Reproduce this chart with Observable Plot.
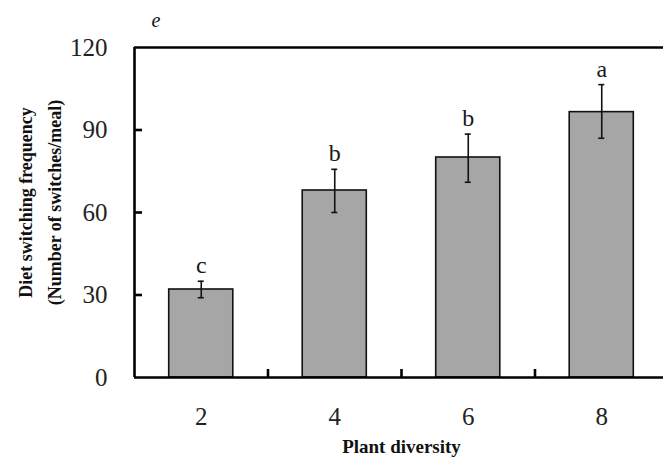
<!DOCTYPE html>
<html>
<head>
<meta charset="utf-8">
<script src="https://cdn.jsdelivr.net/npm/d3@7"></script>
<script src="https://cdn.jsdelivr.net/npm/@observablehq/plot@0.6"></script>
<style>
  html, body { margin: 0; padding: 0; background: #fff; }
  #chart svg { display: block; }
</style>
</head>
<body>
<div id="chart"></div>
<script>
const diversity = [2, 4, 6, 8];
const meanValues = [32, 68, 80, 96.5];
const errLow = [29, 60, 71, 87];
const errHigh = [35, 75.7, 88.5, 106.5];
const letters = ["c", "b", "b", "a"];
const yTicks = [0, 30, 60, 90, 120];
const xTickLabels = ["2", "4", "6", "8"];
const yLabel = "Diet switching frequency\n(Number of switches/meal)";
const xLabel = "Plant diversity";
const panelLetter = "e";

const data = diversity.map((d, i) => ({
  x: d, mean: meanValues[i], lo: errLow[i], hi: errHigh[i], letter: letters[i]
}));

const halfBar = 0.48;
const halfCap = 0.045;
const serif = "Liberation Serif, Times New Roman, serif";

const chart = Plot.plot({
  width: 663,
  height: 463,
  marginLeft: 134,
  marginTop: 47,
  marginBottom: 86,
  marginRight: 0,
  style: { fontFamily: serif, background: "white", color: "black" },
  x: { domain: [1, 9], range: [134, 668] },
  y: { domain: [0, 120] },
  marks: [
    Plot.rectY(data, {
      x1: d => d.x - halfBar, x2: d => d.x + halfBar, y1: 0, y2: "mean",
      fill: "#a6a6a6", stroke: "#111", strokeWidth: 1.6
    }),
    Plot.ruleX(data, { x: "x", y1: "lo", y2: "hi", stroke: "#111", strokeWidth: 1.6 }),
    Plot.ruleY(data, { y: "lo", x1: d => d.x - halfCap, x2: d => d.x + halfCap, stroke: "#111", strokeWidth: 1.6 }),
    Plot.ruleY(data, { y: "hi", x1: d => d.x - halfCap, x2: d => d.x + halfCap, stroke: "#111", strokeWidth: 1.6 }),
    Plot.text(data, {
      x: "x", y: "hi", text: "letter", dy: -8, lineAnchor: "bottom",
      fontSize: 24, fontFamily: serif, fill: "#1a1a1a"
    }),
    Plot.ruleY([0, 120], { stroke: "#000", strokeWidth: 2.6 }),
    Plot.ruleX([1], { stroke: "#000", strokeWidth: 2.6 }),
    Plot.axisY({
      ticks: yTicks, tickSize: 0, tickPadding: 27, label: null,
      fontSize: 25, fontFamily: serif, fill: "#222"
    }),
    Plot.axisY({
      ticks: [30, 60, 90], tickSize: -8, tickFormat: () => "", label: null,
      stroke: "#000", strokeWidth: 2.6
    }),
    Plot.axisX({
      ticks: diversity, tickSize: 0, tickPadding: 30, label: null,
      tickFormat: (d, i) => xTickLabels[i],
      fontSize: 25, fontFamily: serif, fill: "#222"
    }),
    Plot.axisX({
      ticks: [3, 5, 7], tickSize: -8, tickFormat: () => "", label: null,
      stroke: "#000", strokeWidth: 2.6
    }),
    Plot.text([xLabel], {
      frameAnchor: "bottom", x: 5, dy: 75, text: d => d,
      fontSize: 19, fontWeight: "bold", fontFamily: serif, fill: "#111"
    }),
    Plot.text([yLabel], {
      frameAnchor: "left", textAnchor: "middle", dx: -97, dy: -10, rotate: -90, text: d => d,
      lineHeight: 1.6, fontSize: 18, fontWeight: "bold", fontFamily: serif, fill: "#111"
    }),
    Plot.text([panelLetter], {
      frameAnchor: "top-left", dx: 17, dy: -35, text: d => d,
      fontSize: 20, fontStyle: "italic", fontFamily: serif, fill: "#111"
    })
  ]
});

document.getElementById("chart").appendChild(chart);
</script>
</body>
</html>
